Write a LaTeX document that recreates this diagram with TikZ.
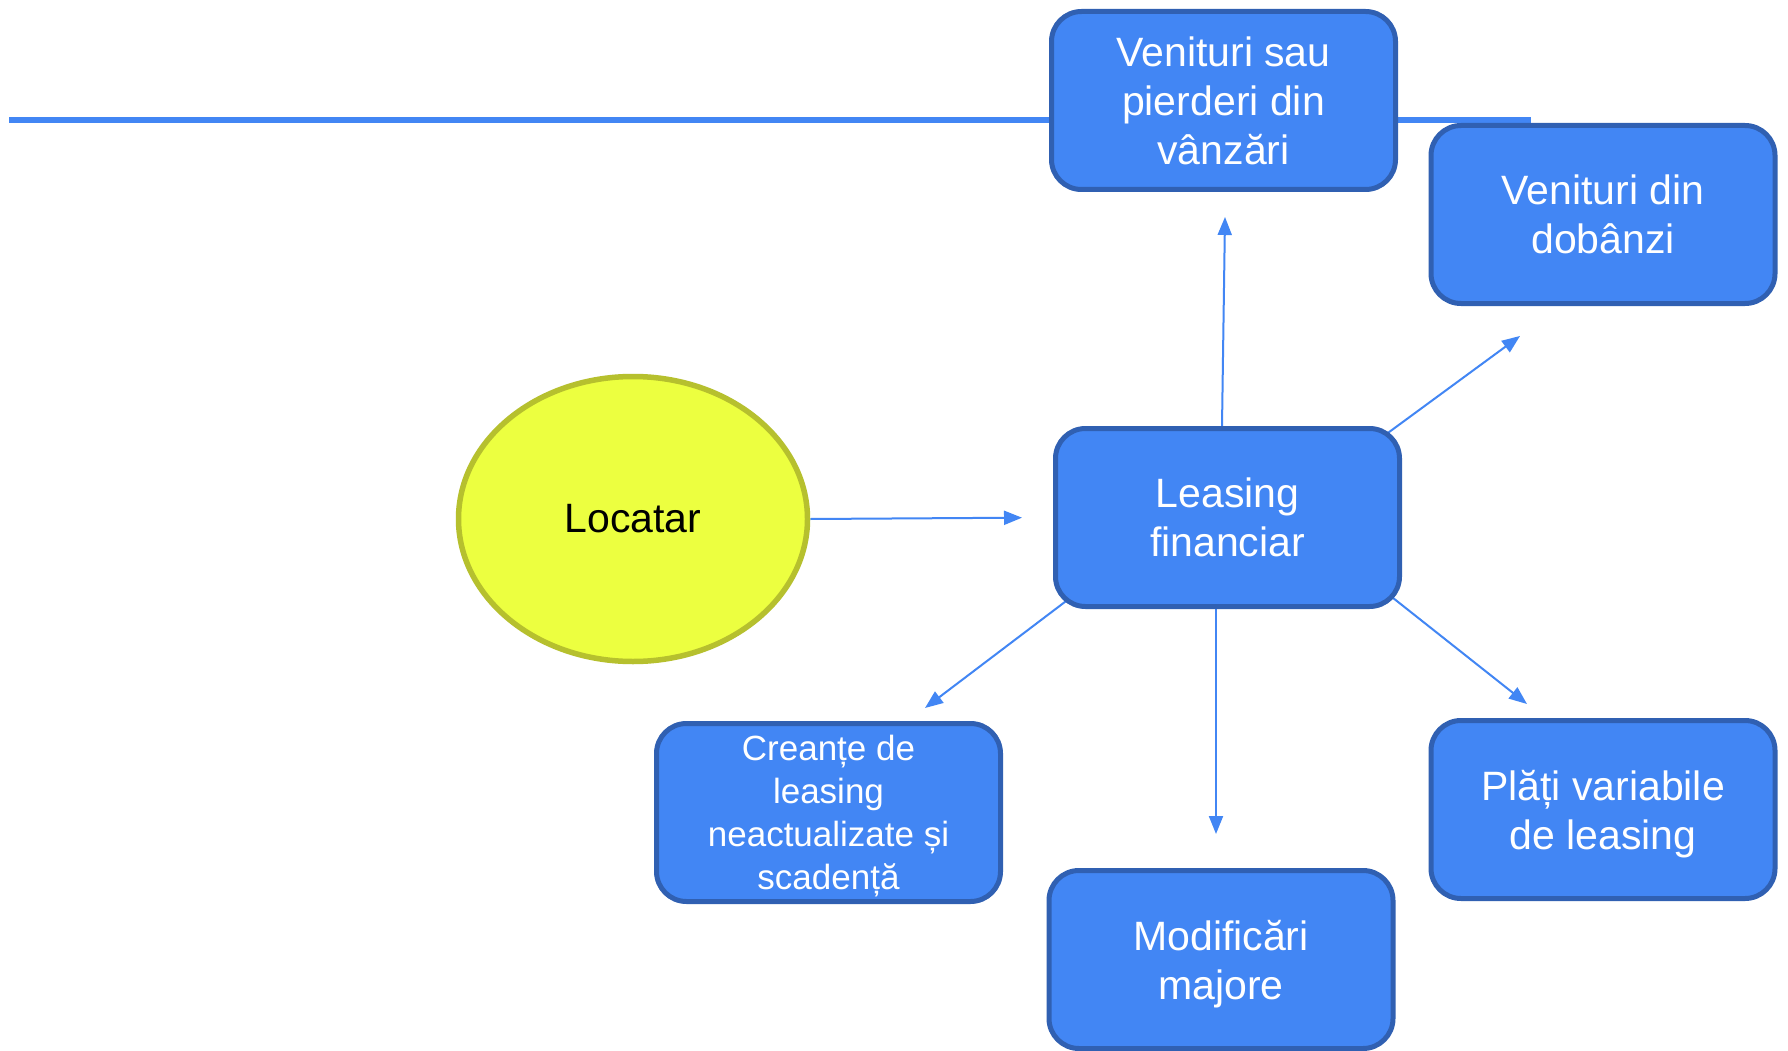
\documentclass[tikz,border=0pt]{standalone}
\usepackage{fontspec}
\setmainfont{Liberation Sans}
\usetikzlibrary{arrows.meta,shapes.geometric,calc}
\pgfdeclarelayer{back}
\pgfdeclarelayer{bg}
\pgfsetlayers{back,bg,main}
\definecolor{boxfill}{RGB}{66,134,244}
\definecolor{boxline}{RGB}{48,96,178}
\definecolor{ellfill}{RGB}{236,255,64}
\definecolor{ellline}{RGB}{182,192,46}
\definecolor{linkblue}{RGB}{66,134,244}
\tikzset{
  bluebox/.style={draw=boxline, fill=boxfill, line width=5pt, rounded corners=30pt,
    minimum width=344pt, minimum height=178pt, inner sep=0pt, align=center,
    text depth=0pt, text=white, font=\fontsize{41}{49}\selectfont},
  smalltext/.style={font=\fontsize{35}{43}\selectfont},
  ellnode/.style={ellipse, draw=ellline, fill=ellfill, line width=5.5pt,
    minimum width=349pt, minimum height=285pt, inner sep=0pt,
    font=\fontsize{41}{49}\selectfont, text=black},
  arr/.style={draw=linkblue, line width=2pt, -{Triangle[length=18pt,width=14pt]}},
  topline/.style={draw=linkblue, line width=6pt}
}
\begin{document}
\begin{tikzpicture}[x=1pt,y=1pt]
\begin{pgfonlayer}{back}
\useasboundingbox[fill=white] (0,0) rectangle (1788,-1051);
\end{pgfonlayer}

\coordinate (lineL) at (9,-120);
\coordinate (lineR) at (1531,-120);

\node[bluebox] (vsp) at (1223.5,-100.5) {Venituri sau\\pierderi din\\vânzări};
\node[bluebox] (vdd) at (1603,-214.5) {Venituri din\\dobânzi};
\node[bluebox] (lf) at (1227.5,-517.5) {Leasing\\financiar};
\node[bluebox, smalltext] (cr) at (828.5,-812.5) {Creanțe de\\leasing\\neactualizate și\\scadență};
\node[bluebox] (mod) at (1221,-959.5) {Modificări\\majore};
\node[bluebox] (pv) at (1603,-809.5) {Plăți variabile\\de leasing};
\node[ellnode] (loc) at (633,-519) {Locatar};

\coordinate (tvsp) at (1225,-217);
\coordinate (tvdd) at (1520,-336);
\coordinate (tcr) at (925,-708);
\coordinate (tmod) at (1216,-834);
\coordinate (tpv) at (1527,-704);

\begin{pgfonlayer}{bg}
\draw[topline] (lineL) -- (lineR);
\draw[arr, shorten >=31pt] (loc.east) -- (lf.west);
\draw[arr] ($(lf.north)+(-5.5,0)$) -- (tvsp);
\draw[arr] ($(lf.north east)+(-30,-18.6)$) -- (tvdd);
\draw[arr] ($(lf.south west)+(29,20)$) -- (tcr);
\draw[arr] (lf.south -| tmod) -- (tmod);
\draw[arr] ($(lf.south east)+(-25,23.7)$) -- (tpv);
\end{pgfonlayer}
\end{tikzpicture}
\end{document}
